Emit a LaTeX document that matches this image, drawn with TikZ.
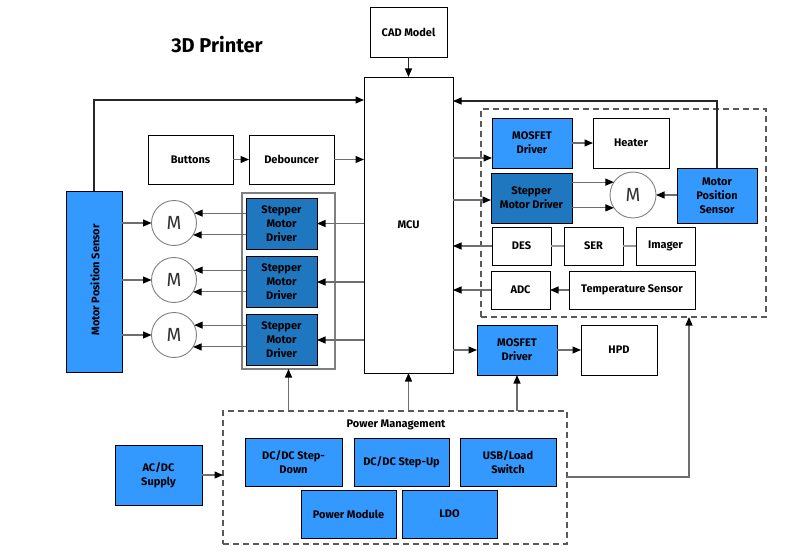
\documentclass[tikz,border=0pt]{standalone}
\usepackage{fontspec}
\setmainfont{Fira Sans}
\usetikzlibrary{arrows.meta,calc,positioning}
\definecolor{lblue}{HTML}{3399FF}
\definecolor{dblue}{HTML}{1F77BF}
\definecolor{wirecol}{HTML}{6E6E6E}
\tikzset{
  block/.style={draw,rectangle,inner sep=1pt,outer sep=0pt,align=center,line width=0.9pt,
    font=\bfseries\fontsize{11}{14}\selectfont},
  wblock/.style={block,fill=white},
  bblock/.style={block,fill=lblue},
  dblock/.style={block,fill=dblue},
  motor/.style={draw=gray,circle,minimum size=45pt,inner sep=0pt,outer sep=0pt,line width=0.9pt,
    fill=white,text=black!80,font=\fontsize{19}{21}\selectfont},
  wire/.style={draw=wirecol,line width=1.1pt,-{Triangle[black,length=8.5pt,width=7pt]}},
  bwire/.style={wire,draw=black!85},
  link/.style={draw=wirecol!70,line width=1.1pt},
  groupbox/.style={draw=gray,line width=1.1pt,rectangle,inner sep=0pt,outer sep=0pt},
  dashbox/.style={draw=black!65,line width=1.1pt,dash pattern=on 6pt off 4pt,rectangle,inner sep=0pt,outer sep=0pt}
}

\begin{document}
\begin{tikzpicture}[x=1pt,y=-1pt]
  \useasboundingbox (0,0) rectangle (806,556);
  \node[font=\bfseries\fontsize{20}{24}\selectfont] (title) at (217,45) {3D Printer};

  % groups
  \node[groupbox,minimum width=93pt,minimum height=176pt] (grp) at (288.5,281) {};
  \node[dashbox,minimum width=285pt,minimum height=208pt] (rbox) at (623.5,213) {};
  \node[dashbox,minimum width=344pt,minimum height=133pt] (pmbox) at (395,477.5) {};

  % centre and top
  \node[wblock,minimum width=77pt,minimum height=50pt] (cad) at (408.5,32) {CAD Model};
  \node[wblock,minimum width=89pt,minimum height=296pt] (mcu) at (408.5,225) {MCU};
  \node[wblock,minimum width=85pt,minimum height=49pt] (buttons) at (190.5,159.5) {Buttons};
  \node[wblock,minimum width=85pt,minimum height=49pt] (deb) at (291.5,159.5) {Debouncer};

  % left motors
  \node[bblock,minimum width=56pt,minimum height=181pt] (mpsL) at (94,281.5) {};
  \node[rotate=90,font=\bfseries\fontsize{11}{14}\selectfont] (mpsLtxt) at (95,280) {Motor Position Sensor};
  \node[motor] (mot1) at (174,223) {M};
  \node[motor] (mot2) at (174,280) {M};
  \node[motor] (mot3) at (174,335) {M};
  \node[dblock,minimum width=71pt,minimum height=51pt] (sd1) at (281.5,223.5) {Stepper\\Motor\\Driver};
  \node[dblock,minimum width=71pt,minimum height=51pt] (sd2) at (281.5,282) {Stepper\\Motor\\Driver};
  \node[dblock,minimum width=71pt,minimum height=51pt] (sd3) at (281.5,340) {Stepper\\Motor\\Driver};

  % right side
  \node[bblock,minimum width=80pt,minimum height=50pt] (mosA) at (532,143) {MOSFET\\Driver};
  \node[wblock,minimum width=76pt,minimum height=50pt] (heater) at (631,143) {Heater};
  \node[dblock,minimum width=81pt,minimum height=50pt] (sdR) at (531.5,198) {Stepper\\Motor Driver};
  \node[motor,minimum size=46pt] (motR) at (633,195) {M};
  \node[bblock,minimum width=80pt,minimum height=55pt] (mpsR) at (717,195.5) {Motor\\Position\\Sensor};
  \node[wblock,minimum width=59pt,minimum height=38pt] (des) at (521.5,246) {DES};
  \node[wblock,minimum width=59pt,minimum height=38pt] (ser) at (593.5,246) {SER};
  \node[wblock,minimum width=59pt,minimum height=38pt] (imager) at (665.5,246) {Imager};
  \node[wblock,minimum width=59pt,minimum height=38pt] (adc) at (520.5,290) {ADC};
  \node[wblock,minimum width=126pt,minimum height=38pt] (temp) at (632,290) {Temperature Sensor};
  \node[bblock,minimum width=80pt,minimum height=50pt] (mosB) at (517,350) {MOSFET\\Driver};
  \node[wblock,minimum width=76pt,minimum height=50pt] (hpd) at (619,350) {HPD};

  % power
  \node[font=\bfseries\fontsize{11}{14}\selectfont] (pmlabel) at (396,425) {Power Management};
  \node[bblock,minimum width=97pt,minimum height=48pt] (sdown) at (293.5,462) {DC/DC Step-\\Down};
  \node[bblock,minimum width=95pt,minimum height=48pt] (sup) at (401.5,462) {DC/DC Step-Up};
  \node[bblock,minimum width=96pt,minimum height=48pt] (usb) at (508,462) {USB/Load\\Switch};
  \node[bblock,minimum width=95pt,minimum height=48pt] (pmod) at (348.5,514) {Power Module};
  \node[bblock,minimum width=95pt,minimum height=48pt] (ldo) at (449.5,514) {LDO};
  \node[bblock,minimum width=87pt,minimum height=60pt] (acdc) at (158.5,475) {AC/DC\\Supply};

  % connectors
  \draw[bwire] (cad) -- (mcu);
  \draw[bwire] (mpsL.north) |- (mcu.west |- 0,100);
  \draw[wire] (buttons) -- (deb);
  \draw[wire] (deb) -- (mcu.west |- deb);
  \foreach \i in {1,2,3} {
    \draw[wire] (mpsL.east |- mot\i) -- (mot\i);
    \draw[wire] (sd\i.west |- mot\i.26) -- (mot\i.26);
    \draw[wire] (sd\i.west |- mot\i.-32) -- (mot\i.-32);
    \draw[wire] (mcu.west |- sd\i) -- (sd\i);
  }
  \draw[wire] (mcu.east |- 0,158) -- (mosA.west |- 0,158);
  \draw[wire] (mosA) -- (heater);
  \draw[wire] (mcu.east |- 0,200) -- (sdR.west |- 0,200);
  \draw[wire] (sdR.east |- motR.146) -- (motR.146);
  \draw[wire] (sdR.east |- motR.214) -- (motR.214);
  \draw[wire] (mpsR.west |- motR) -- (motR);
  \draw[bwire] (mpsR.north) |- (mcu.east |- 0,101);
  \draw[wire] (des) -- (mcu.east |- des);
  \draw[link] (des) -- (ser);
  \draw[link] (ser) -- (imager);
  \draw[wire] (temp) -- (adc);
  \draw[wire] (adc) -- (mcu.east |- adc);
  \draw[wire] (mcu.east |- mosB) -- (mosB);
  \draw[wire] (mosB) -- (hpd);
  \draw[wire] (grp |- pmbox.north) -- (grp.south);
  \draw[wire] (mcu |- pmbox.north) -- (mcu.south);
  \draw[wire] (mosB |- pmbox.north) -- (mosB.south);
  \draw[wire] (acdc) -- (pmbox.west |- acdc);
  \draw[wire] (pmbox.east |- 0,477) -| (689,0 |- rbox.south);
\end{tikzpicture}
\end{document}
